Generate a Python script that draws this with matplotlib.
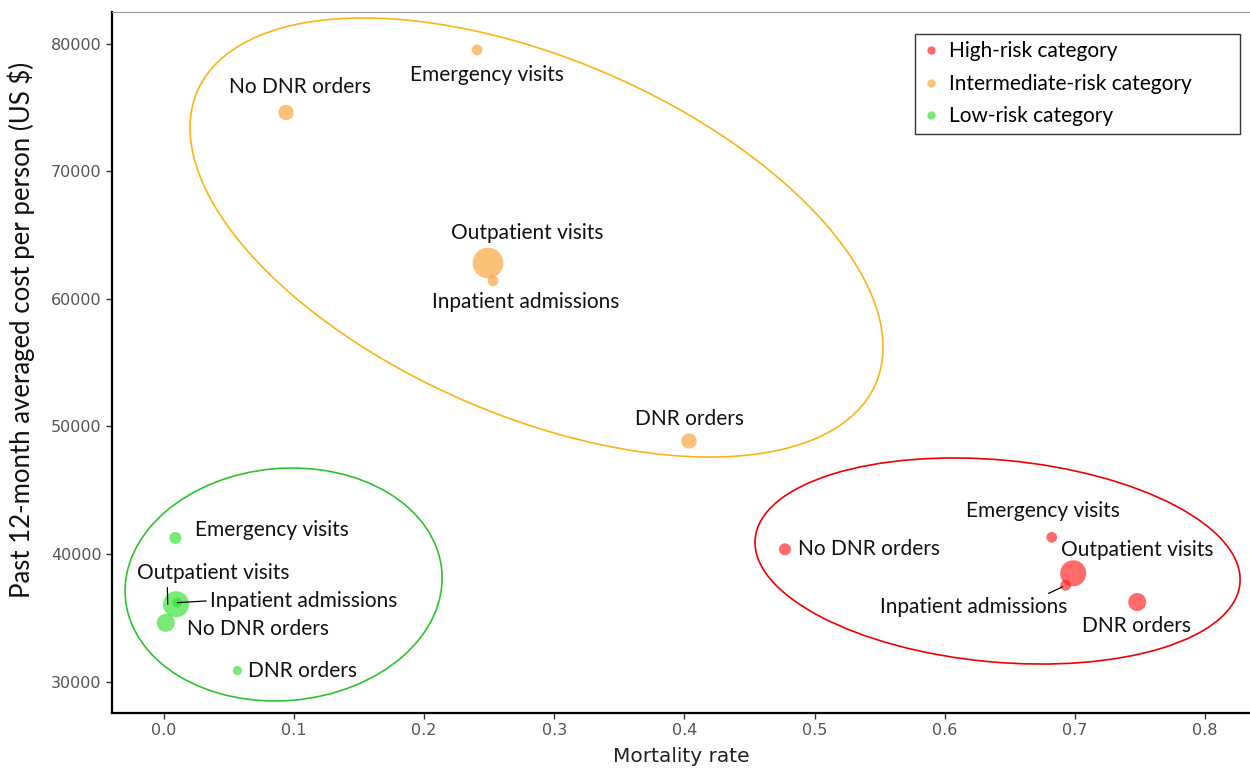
import matplotlib
matplotlib.use("Agg")
import matplotlib.pyplot as plt
import matplotlib.transforms as mtransforms
from matplotlib.patches import Ellipse
from matplotlib.lines import Line2D

# data
items = ["Emergency visits", "Outpatient visits", "Inpatient admissions",
         "No DNR orders", "DNR orders"]

high_mort = [0.6822, 0.6987, 0.6929, 0.4773, 0.7479]
high_cost = [41300, 38480, 37540, 40360, 36230]
high_wt = [1.15, 6.8, 1.15, 1.45, 3.25]

mid_mort = [0.2408, 0.2492, 0.2531, 0.0941, 0.4036]
mid_cost = [79500, 62800, 61400, 74600, 48850]
mid_wt = [1.15, 9.4, 1.15, 2.35, 2.35]

low_mort = [0.0091, 0.0096, 0.0106, 0.0017, 0.0567]
low_cost = [41250, 36050, 36180, 34600, 30850]
low_wt = [1.45, 6.8, 1.0, 3.25, 0.87]

xticks = [0.0, 0.1, 0.2, 0.3, 0.4, 0.5, 0.6, 0.7, 0.8]
yticks = [30000, 40000, 50000, 60000, 70000, 80000]

TXT = ["Lato", "DejaVu Sans"]
AX = ["DejaVu Sans"]

fig = plt.figure(figsize=(12.5, 7.69), dpi=100)
ax = fig.add_axes([0.0896, 0.0728, 0.9104, 0.9116])
ax.set_xlim(-0.0396, 0.8345)
ax.set_ylim(27530, 82470)

groups = [
    ("High-risk category", high_mort, high_cost, high_wt, "#FF1A1A"),
    ("Intermediate-risk category", mid_mort, mid_cost, mid_wt, "#F8A030"),
    ("Low-risk category", low_mort, low_cost, low_wt, "#2EE02E"),
]
base = (10 * 0.72) ** 2
for name, xs, ys, ws, col in groups:
    ax.scatter(xs, ys, s=[w * base for w in ws], color=col, alpha=0.65,
               edgecolors="none", zorder=3)

# hand drawn group ellipses: centre (data), semi axes (inch), angle
ell_centres = [(0.6406, 39443), (0.2865, 64796), (0.0922, 37602)]
ell_axes = [(2.434, 1.01), (3.694, 1.784), (1.588, 1.161)]
ell_angle = [-5.3, -23.3, 5.0]
ell_cols = ["#F20000", "#FBB316", "#2CC42C"]
for c, (a, b), ang, col in zip(ell_centres, ell_axes, ell_angle, ell_cols):
    tr = fig.dpi_scale_trans + mtransforms.ScaledTranslation(c[0], c[1], ax.transData)
    ax.add_patch(Ellipse((0, 0), 2 * a, 2 * b, angle=ang, transform=tr,
                         fill=False, edgecolor=col, lw=1.2, zorder=2))

# label offsets (points) and alignment per point
fs = 15
def lab(x, y, txt, dx, dy, ha="center", arrow=None, tip=(0, 0)):
    kw = dict(xy=(x, y), xytext=(dx, dy), textcoords="offset points",
              ha=ha, va="center", fontsize=fs, family=TXT, color="#111111",
              zorder=4)
    if arrow is not None:
        kw["xycoords"] = mtransforms.offset_copy(ax.transData, fig=fig,
                                                 x=tip[0], y=tip[1], units="points")
        kw["textcoords"] = mtransforms.offset_copy(ax.transData, fig=fig,
                                                   x=tip[0] + dx, y=tip[1] + dy,
                                                   units="points")
        kw["xytext"] = (x, y)
        kw["arrowprops"] = dict(arrowstyle="-", color="black", lw=0.9,
                                shrinkA=1, shrinkB=arrow[1],
                                relpos=arrow[0])
    ax.annotate(txt, **kw)

# high risk
lab(high_mort[0], high_cost[0], items[0], -6.5, 18.7)
lab(high_mort[1], high_cost[1], items[1], 46, 16.6)
lab(high_mort[2], high_cost[2], items[2], -66, -15.5, arrow=((0.86, 1.0), 2.5))
lab(high_mort[3], high_cost[3], items[3], 9.4, 0, ha="left")
lab(high_mort[4], high_cost[4], items[4], -0.7, -17.3)
# intermediate risk
lab(mid_mort[0], mid_cost[0], items[0], 7.2, -18)
lab(mid_mort[1], mid_cost[1], items[1], 28, 21.6)
lab(mid_mort[2], mid_cost[2], items[2], 23.8, -15.1)
lab(mid_mort[3], mid_cost[3], items[3], 10, 18)
lab(mid_mort[4], mid_cost[4], items[4], 0, 15.8)
# low risk
lab(low_mort[0], low_cost[0], items[0], 14.4, 5.8, ha="left")
lab(low_mort[1], low_cost[1], items[1], 32.6, 22.3, arrow=((0.2, 0.0), 0),
    tip=(-6, 0))
lab(low_mort[2], low_cost[2], items[2], 23.8, 1.4, ha="left", arrow=((0.0, 0.5), 0))
lab(low_mort[3], low_cost[3], items[3], 15.1, -4.3, ha="left")
lab(low_mort[4], low_cost[4], items[4], 7.9, 0, ha="left")

ax.set_xticks(xticks)
ax.set_xticklabels([f"{v:.1f}" for v in xticks])
ax.set_yticks(yticks)
ax.set_yticklabels([str(v) for v in yticks])
ax.tick_params(direction="out", length=4, width=1, color="#333333",
               labelcolor="#555555", labelsize=11.5)
for t in ax.get_xticklabels() + ax.get_yticklabels():
    t.set_family(AX)

ax.set_xlabel("Mortality rate", fontsize=14.5, family=AX, color="#222222",
              labelpad=6)
ax.set_ylabel("Past 12-month averaged cost per person (US $)", fontsize=18.5,
              family=TXT, color="#111111")
ax.yaxis.set_label_coords(-0.068, 0.547)

ax.spines["left"].set_linewidth(1.6)
ax.spines["bottom"].set_linewidth(1.6)
ax.spines["top"].set_color("#999999")
ax.spines["top"].set_linewidth(0.8)
ax.spines["right"].set_visible(False)

handles = [Line2D([], [], ls="none", marker="o", ms=6, color=g[4], alpha=0.65,
                  markeredgewidth=0) for g in groups]
leg = ax.legend(handles, [g[0] for g in groups], loc="upper left",
                bbox_to_anchor=(0.7056, 0.9686, 0.2856, 0.0), mode="expand",
                frameon=True, fancybox=False,
                prop={"family": TXT, "size": 15}, handlelength=0.8,
                handletextpad=0.5, labelspacing=0.6, borderpad=0.35,
                borderaxespad=0)
leg.get_frame().set_edgecolor("black")
leg.get_frame().set_linewidth(1.0)

fig.savefig("out.png", dpi=100)
